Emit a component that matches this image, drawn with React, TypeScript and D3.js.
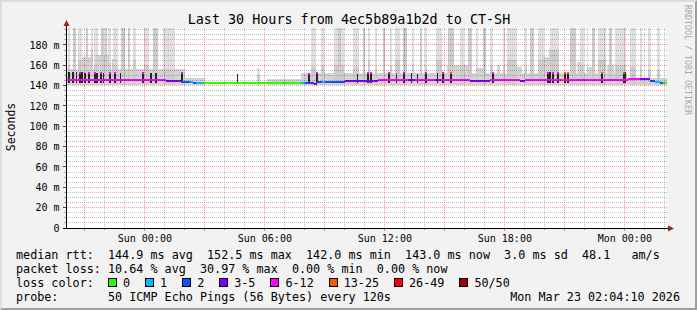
import React from "react";
import * as d3 from "d3";

// ---------- data ----------
// chart covers 30 hours (1800 minutes) starting Sat 21 Mar 2026 20:08
const START_MS = Date.UTC(2026, 2, 21, 20, 8);
const SPAN_MIN = 1800;

const title = "Last 30 Hours from 4ec5b89a1b2d to CT-SH";
const xTickLabels = ["Sun 00:00", "Sun 06:00", "Sun 12:00", "Sun 18:00", "Mon 00:00"];
const yTickValues = [0, 20, 40, 60, 80, 100, 120, 140, 160, 180];
const yTickLabels = ["0", "20 m", "40 m", "60 m", "80 m", "100 m", "120 m", "140 m", "160 m", "180 m"];
const Y_MAX = 196.7;

const lossLabels = ["0", "1", "2", "3-5", "6-12", "13-25", "26-49", "50/50"];
const lossColors = ["#26ff00", "#00b8ff", "#0059ff", "#7e00ff", "#ff00ff", "#ff5500", "#ff0000", "#a10000"];

// median rtt: [startMin, endMin, ms, lossClass]
const medianSegments: [number, number, number, number][] = [
  [0, 297, 145.3, 4], [297, 342, 145.0, 3], [342, 357, 144.0, 2], [357, 369, 143.3, 2],
  [369, 378, 143.3, 1], [378, 387, 143.0, 2], [387, 408, 142.7, 1], [408, 702, 142.3, 0],
  [702, 714, 142.6, 1], [714, 732, 143.0, 2], [732, 741, 142.8, 3], [741, 750, 141.5, 3],
  [750, 765, 143.3, 2], [765, 774, 143.3, 1], [774, 834, 144.0, 2], [834, 933, 145.0, 3],
  [933, 1023, 145.5, 4], [1023, 1044, 145.3, 3], [1044, 1104, 145.5, 4], [1104, 1122, 145.3, 3],
  [1122, 1209, 145.5, 4], [1209, 1269, 145.0, 3], [1269, 1359, 145.2, 4], [1359, 1374, 144.3, 3],
  [1374, 1485, 145.2, 4], [1485, 1491, 145.2, 5], [1491, 1683, 145.2, 4], [1683, 1719, 146.3, 4],
  [1719, 1749, 146.2, 3], [1749, 1764, 144.3, 2], [1764, 1779, 143.5, 1], [1779, 1788, 143.0, 2],
  [1788, 1800, 143.0, 0],
];

// tall smoke columns: [startMin, endMin, maxMs, innerMs]
const smokeColumns: [number, number, number, number][] = [
  [3, 9, 200, 160], [18, 27, 200, 200], [33, 45, 200, 165], [57, 63, 200, 200], [72, 78, 200, 175],
  [81, 93, 200, 160], [102, 111, 200, 200], [114, 120, 200, 200], [123, 132, 200, 162], [138, 153, 200, 158],
  [162, 174, 200, 200], [183, 189, 200, 200], [198, 207, 200, 165], [231, 246, 200, 160], [258, 273, 200, 200],
  [288, 324, 200, 155], [570, 579, 157, 150],
  [732, 747, 200, 158], [762, 771, 200, 160], [801, 831, 200, 160], [813, 822, 200, 200], [858, 876, 200, 158],
  [888, 894, 200, 200], [903, 909, 200, 165], [924, 930, 200, 158], [948, 954, 200, 200], [969, 975, 200, 160],
  [984, 999, 200, 165], [1008, 1020, 200, 200], [1035, 1041, 200, 160], [1059, 1065, 200, 200], [1074, 1080, 200, 160],
  [1107, 1125, 200, 165], [1143, 1161, 200, 200], [1179, 1191, 200, 160], [1203, 1215, 200, 200], [1227, 1233, 200, 158],
  [1248, 1257, 200, 200], [1269, 1278, 200, 160], [1308, 1314, 200, 160], [1320, 1350, 200, 165], [1374, 1380, 200, 160],
  [1389, 1401, 200, 200], [1413, 1431, 200, 165], [1449, 1476, 200, 175], [1509, 1527, 200, 200], [1539, 1551, 200, 160],
  [1560, 1563, 200, 160], [1575, 1584, 200, 200], [1593, 1617, 200, 165], [1626, 1635, 200, 200], [1644, 1677, 200, 160],
  [1689, 1707, 200, 158], [1719, 1725, 200, 158], [1743, 1752, 200, 155], [1770, 1779, 200, 155],
];

// low smoke around the median: [startMin, endMin, topMs]
const lowSmoke: [number, number, number][] = [
  [0, 354, 156], [45, 75, 168], [84, 126, 170], [135, 150, 166], [354, 414, 148], [600, 702, 146.5],
  [702, 1680, 152], [1140, 1210, 160], [1230, 1250, 157], [1290, 1300, 160], [1350, 1365, 158],
  [1425, 1460, 168], [1446, 1452, 176], [1530, 1545, 163], [1560, 1575, 158], [1620, 1640, 160], [1680, 1800, 148],
];

// dense spikes: [startMin, durationMin, topMs, capLossClass(-1 none)]
const spikes: [number, number, number, number][] = [
  [3, 5, 153, -1], [15, 5, 153, -1], [27, 4, 153, -1], [36, 5, 153, 4], [42, 5, 153, -1], [52, 4, 152, -1],
  [63, 5, 153, 4], [81, 5, 153, 4], [88, 4, 152, -1], [99, 5, 153, 4], [108, 4, 152, -1], [126, 5, 153, 4],
  [141, 5, 153, 4], [159, 4, 152, -1], [226, 5, 153, 4], [250, 5, 152, -1], [265, 5, 152, -1], [343, 4, 153, 4],
  [511, 3, 151, -1], [724, 5, 152, 4], [747, 5, 153, 4], [870, 3, 151, -1], [901, 5, 153, 4], [910, 5, 153, 4],
  [963, 5, 153, 4], [987, 4, 152, 4], [1008, 5, 153, 4], [1032, 4, 152, -1], [1050, 4, 151, -1], [1074, 5, 153, 4],
  [1110, 4, 152, -1], [1126, 5, 153, 4], [1150, 5, 153, 5], [1276, 5, 153, 4], [1441, 5, 153, 4], [1447, 4, 153, -1],
  [1456, 5, 153, 4], [1470, 5, 153, 4], [1491, 5, 153, 5], [1501, 5, 153, 5], [1603, 5, 153, 5], [1668, 5, 153, 5],
  [1674, 4, 153, -1],
];

const rttStats = ["144.9 ms avg", "152.5 ms max", "142.0 ms min", "143.0 ms now", "3.0 ms sd", "48.1   am/s"];
const lossStats = ["10.64 % avg", "30.97 % max", "0.00 % min", "0.00 % now"];
const probeText = "50 ICMP Echo Pings (56 Bytes) every 120s";
const stampText = "Mon Mar 23 02:04:10 2026";

// ---------- layout ----------
const W = 697, H = 310;
const PL = 67, PR = 667, PT = 28, PB = 228;
const MONO = "'DejaVu Sans Mono', monospace";
const CW = 7.07;

export default function App() {
  const t0 = new Date(START_MS);
  const t1 = new Date(START_MS + SPAN_MIN * 60000);
  const xs = d3.scaleUtc().domain([t0, t1]).range([PL, PR]);
  const xm = (m: number) => xs(new Date(START_MS + m * 60000));
  const ys = d3.scaleLinear().domain([0, Y_MAX]).range([PB, PT]);
  const px = (v: number) => Math.floor(v) + 0.5;

  const hours = d3.utcHour.every(1)!.range(t0, t1);
  const majors = hours.filter((d) => d.getUTCHours() % 3 === 0);
  const minors = hours.filter((d) => d.getUTCHours() % 3 !== 0);
  const labelTicks = hours.filter((d) => d.getUTCHours() % 6 === 0);

  const yMinor = d3.range(5, Y_MAX, 5).filter((v) => v % 20 !== 0);
  const yMajor = yTickValues.filter((v) => v > 0);

  const gridGrey = "rgba(0,0,0,0.24)";
  const gridRed = "rgba(255,0,0,0.4)";

  const yb = ys(141);

  // legend swatch layout
  const sw: { x: number; label: string; color: string }[] = [];
  let sx = 108;
  lossLabels.forEach((l, i) => {
    sw.push({ x: sx, label: l, color: lossColors[i] });
    sx += 15 + l.length * CW + 15;
  });

  const line1 = "median rtt:  " + rttStats.join("  ");
  const line2 = "packet loss: " + lossStats.join("  ");
  const line4 = "probe:       " + probeText;

  const hy = (v: number) => Math.floor(ys(v));
  const vx = (d: Date) => Math.floor(xs(d));

  return (
    <svg width={W} height={H} style={{ position: "absolute", left: 0, top: 0, display: "block" }}
      xmlns="http://www.w3.org/2000/svg">
      <defs>
        <clipPath id="plotclip">
          <rect x={PL} y={PT} width={PR - PL} height={PB - PT} />
        </clipPath>
        <pattern id="dGH" x={0} y={0} width={2} height={1} patternUnits="userSpaceOnUse">
          <rect x={0} y={0} width={1} height={1} fill={gridGrey} />
        </pattern>
        <pattern id="dGV" x={0} y={0} width={1} height={2} patternUnits="userSpaceOnUse">
          <rect x={0} y={0} width={1} height={1} fill={gridGrey} />
        </pattern>
        <pattern id="dRH" x={0} y={0} width={2} height={1} patternUnits="userSpaceOnUse">
          <rect x={0} y={0} width={1} height={1} fill={gridRed} />
        </pattern>
        <pattern id="dRV" x={0} y={0} width={1} height={2} patternUnits="userSpaceOnUse">
          <rect x={0} y={0} width={1} height={1} fill={gridRed} />
        </pattern>
      </defs>
      <rect x={0} y={0} width={W} height={H} fill="#f2f2f2" />
      {/* bevel */}
      <polygon points={`0,0 ${W},0 ${W - 2},2 2,2 2,${H - 2} 0,${H}`} fill="#dcdcdc" />
      <polygon points={`${W},0 ${W},${H} 0,${H} 2,${H - 2} ${W - 2},${H - 2} ${W - 2},2`} fill="#9e9e9e" />

      <rect x={PL} y={PT} width={PR - PL} height={PB - PT} fill="#ffffff" />

      <g clipPath="url(#plotclip)" shapeRendering="crispEdges">
        {smokeColumns.map(([a, b, mx], i) => (
          <rect key={"c" + i} x={Math.round(xm(a))} width={Math.max(1, Math.round(xm(b)) - Math.round(xm(a)))}
            y={ys(mx)} height={yb - ys(mx)} fill="#e0e0e0" />
        ))}
        {lowSmoke.map(([a, b, top], i) => (
          <rect key={"l" + i} x={Math.round(xm(a))} width={Math.max(1, Math.round(xm(b)) - Math.round(xm(a)))}
            y={ys(top)} height={yb - ys(top)} fill="#d4d4d4" />
        ))}
        {smokeColumns.map(([a, b, , inner], i) => (
          <rect key={"ci" + i} x={Math.round(xm(a))} width={Math.max(1, Math.round(xm(b)) - Math.round(xm(a)))}
            y={ys(inner)} height={yb - ys(inner)} fill="#cdcdcd" />
        ))}
        {spikes.map(([a, d, top, cap], i) => {
          const x0 = Math.round(xm(a));
          const w = Math.max(1, Math.round(xm(a + d)) - x0);
          return (
            <g key={"s" + i}>
              <rect x={x0} width={w} y={ys(top)} height={ys(143) - ys(top)} fill="#262626" />
              {cap >= 0 && <rect x={x0} width={w} y={ys(top)} height={2} fill={lossColors[cap]} />}
            </g>
          );
        })}
        {medianSegments.map(([a, b, v, c], i) => (
          <rect key={"m" + i} x={Math.round(xm(a))} width={Math.round(xm(b)) - Math.round(xm(a))}
            y={Math.round(ys(v)) - 1} height={2} fill={lossColors[c]} />
        ))}
      </g>

      {/* grid (dotted) */}
      <g shapeRendering="crispEdges">
        {yMinor.map((v) => (
          <rect key={"ym" + v} x={PL} y={hy(v)} width={PR - PL} height={1} fill="url(#dGH)" />
        ))}
        {minors.map((d, i) => (
          <rect key={"xm" + i} x={vx(d)} y={PT} width={1} height={PB - PT} fill="url(#dGV)" />
        ))}
        {yMajor.map((v) => (
          <rect key={"yM" + v} x={PL} y={hy(v)} width={PR - PL} height={1} fill="url(#dRH)" />
        ))}
        {majors.map((d, i) => (
          <rect key={"xM" + i} x={vx(d)} y={PT} width={1} height={PB - PT} fill="url(#dRV)" />
        ))}
      </g>

      {/* ticks */}
      <g strokeWidth={1} shapeRendering="crispEdges">
        {minors.map((d, i) => (
          <line key={"tm" + i} x1={px(xs(d))} x2={px(xs(d))} y1={PB} y2={PB + 2} stroke="#999" />
        ))}
        {majors.map((d, i) => (
          <line key={"tM" + i} x1={px(xs(d))} x2={px(xs(d))} y1={PB} y2={PB + 3} stroke="#f08080" />
        ))}
        {yMinor.map((v) => (
          <line key={"tym" + v} x1={PL - 3} x2={PL - 1} y1={px(ys(v))} y2={px(ys(v))} stroke="#aaa" />
        ))}
        {yTickValues.map((v) => (
          <line key={"tyM" + v} x1={PL - 4} x2={PL - 1} y1={px(ys(v))} y2={px(ys(v))} stroke="#444" />
        ))}
      </g>

      {/* axes */}
      <line x1={PL - 0.5} x2={PL - 0.5} y1={PB + 1} y2={21} stroke="#000" strokeWidth={1} shapeRendering="crispEdges" />
      <line x1={PL - 4} x2={671} y1={PB + 0.5} y2={PB + 0.5} stroke="#000" strokeWidth={1} shapeRendering="crispEdges" />
      <polygon points={`${PL - 3.5},26 ${PL + 2.5},26 ${PL - 0.5},20`} fill="#9b2020" />
      <polygon points={`668,${PB - 2.5} 668,${PB + 3.5} 674,${PB + 0.5}`} fill="#9b2020" />

      {/* tick labels */}
      <g fontFamily={MONO} fontSize={10} fill="#000">
        {yTickValues.map((v, i) => (
          <text key={"yl" + v} x={59.5} y={ys(v) + 3.8} textAnchor="end">{yTickLabels[i]}</text>
        ))}
        {labelTicks.map((d, i) => (
          <text key={"xl" + i} x={xs(d) + 0.5} y={241.5} textAnchor="middle">{xTickLabels[i]}</text>
        ))}
      </g>

      {/* title and side labels */}
      <text x={349} y={24} textAnchor="middle" fontFamily={MONO} fontSize={13.4} fill="#000">{title}</text>
      <text transform="translate(14.5,127) rotate(-90)" textAnchor="middle" fontFamily={MONO} fontSize={11.5} fill="#000">Seconds</text>
      <text transform="translate(685,5) rotate(90)" fontFamily={MONO} fontSize={8.3} fill="#a8a8a8">RRDTOOL / TOBI OETIKER</text>

      {/* legend */}
      <g fontFamily={MONO} fontSize={11.75} fill="#000" style={{ whiteSpace: "pre" }}>
        <text x={16} y={258.5} xmlSpace="preserve">{line1}</text>
        <text x={16} y={272.5} xmlSpace="preserve">{line2}</text>
        <text x={16} y={286.5} xmlSpace="preserve">loss color:</text>
        {sw.map((s, i) => (
          <g key={"sw" + i}>
            <rect x={Math.round(s.x) + 0.5} y={278.5} width={8} height={8} fill={s.color} stroke="#000" strokeWidth={1} />
            <text x={s.x + 15} y={286.5}>{s.label}</text>
          </g>
        ))}
        <text x={16} y={300.5} xmlSpace="preserve">{line4}</text>
        <text x={680} y={300.5} textAnchor="end">{stampText}</text>
      </g>
    </svg>
  );
}
